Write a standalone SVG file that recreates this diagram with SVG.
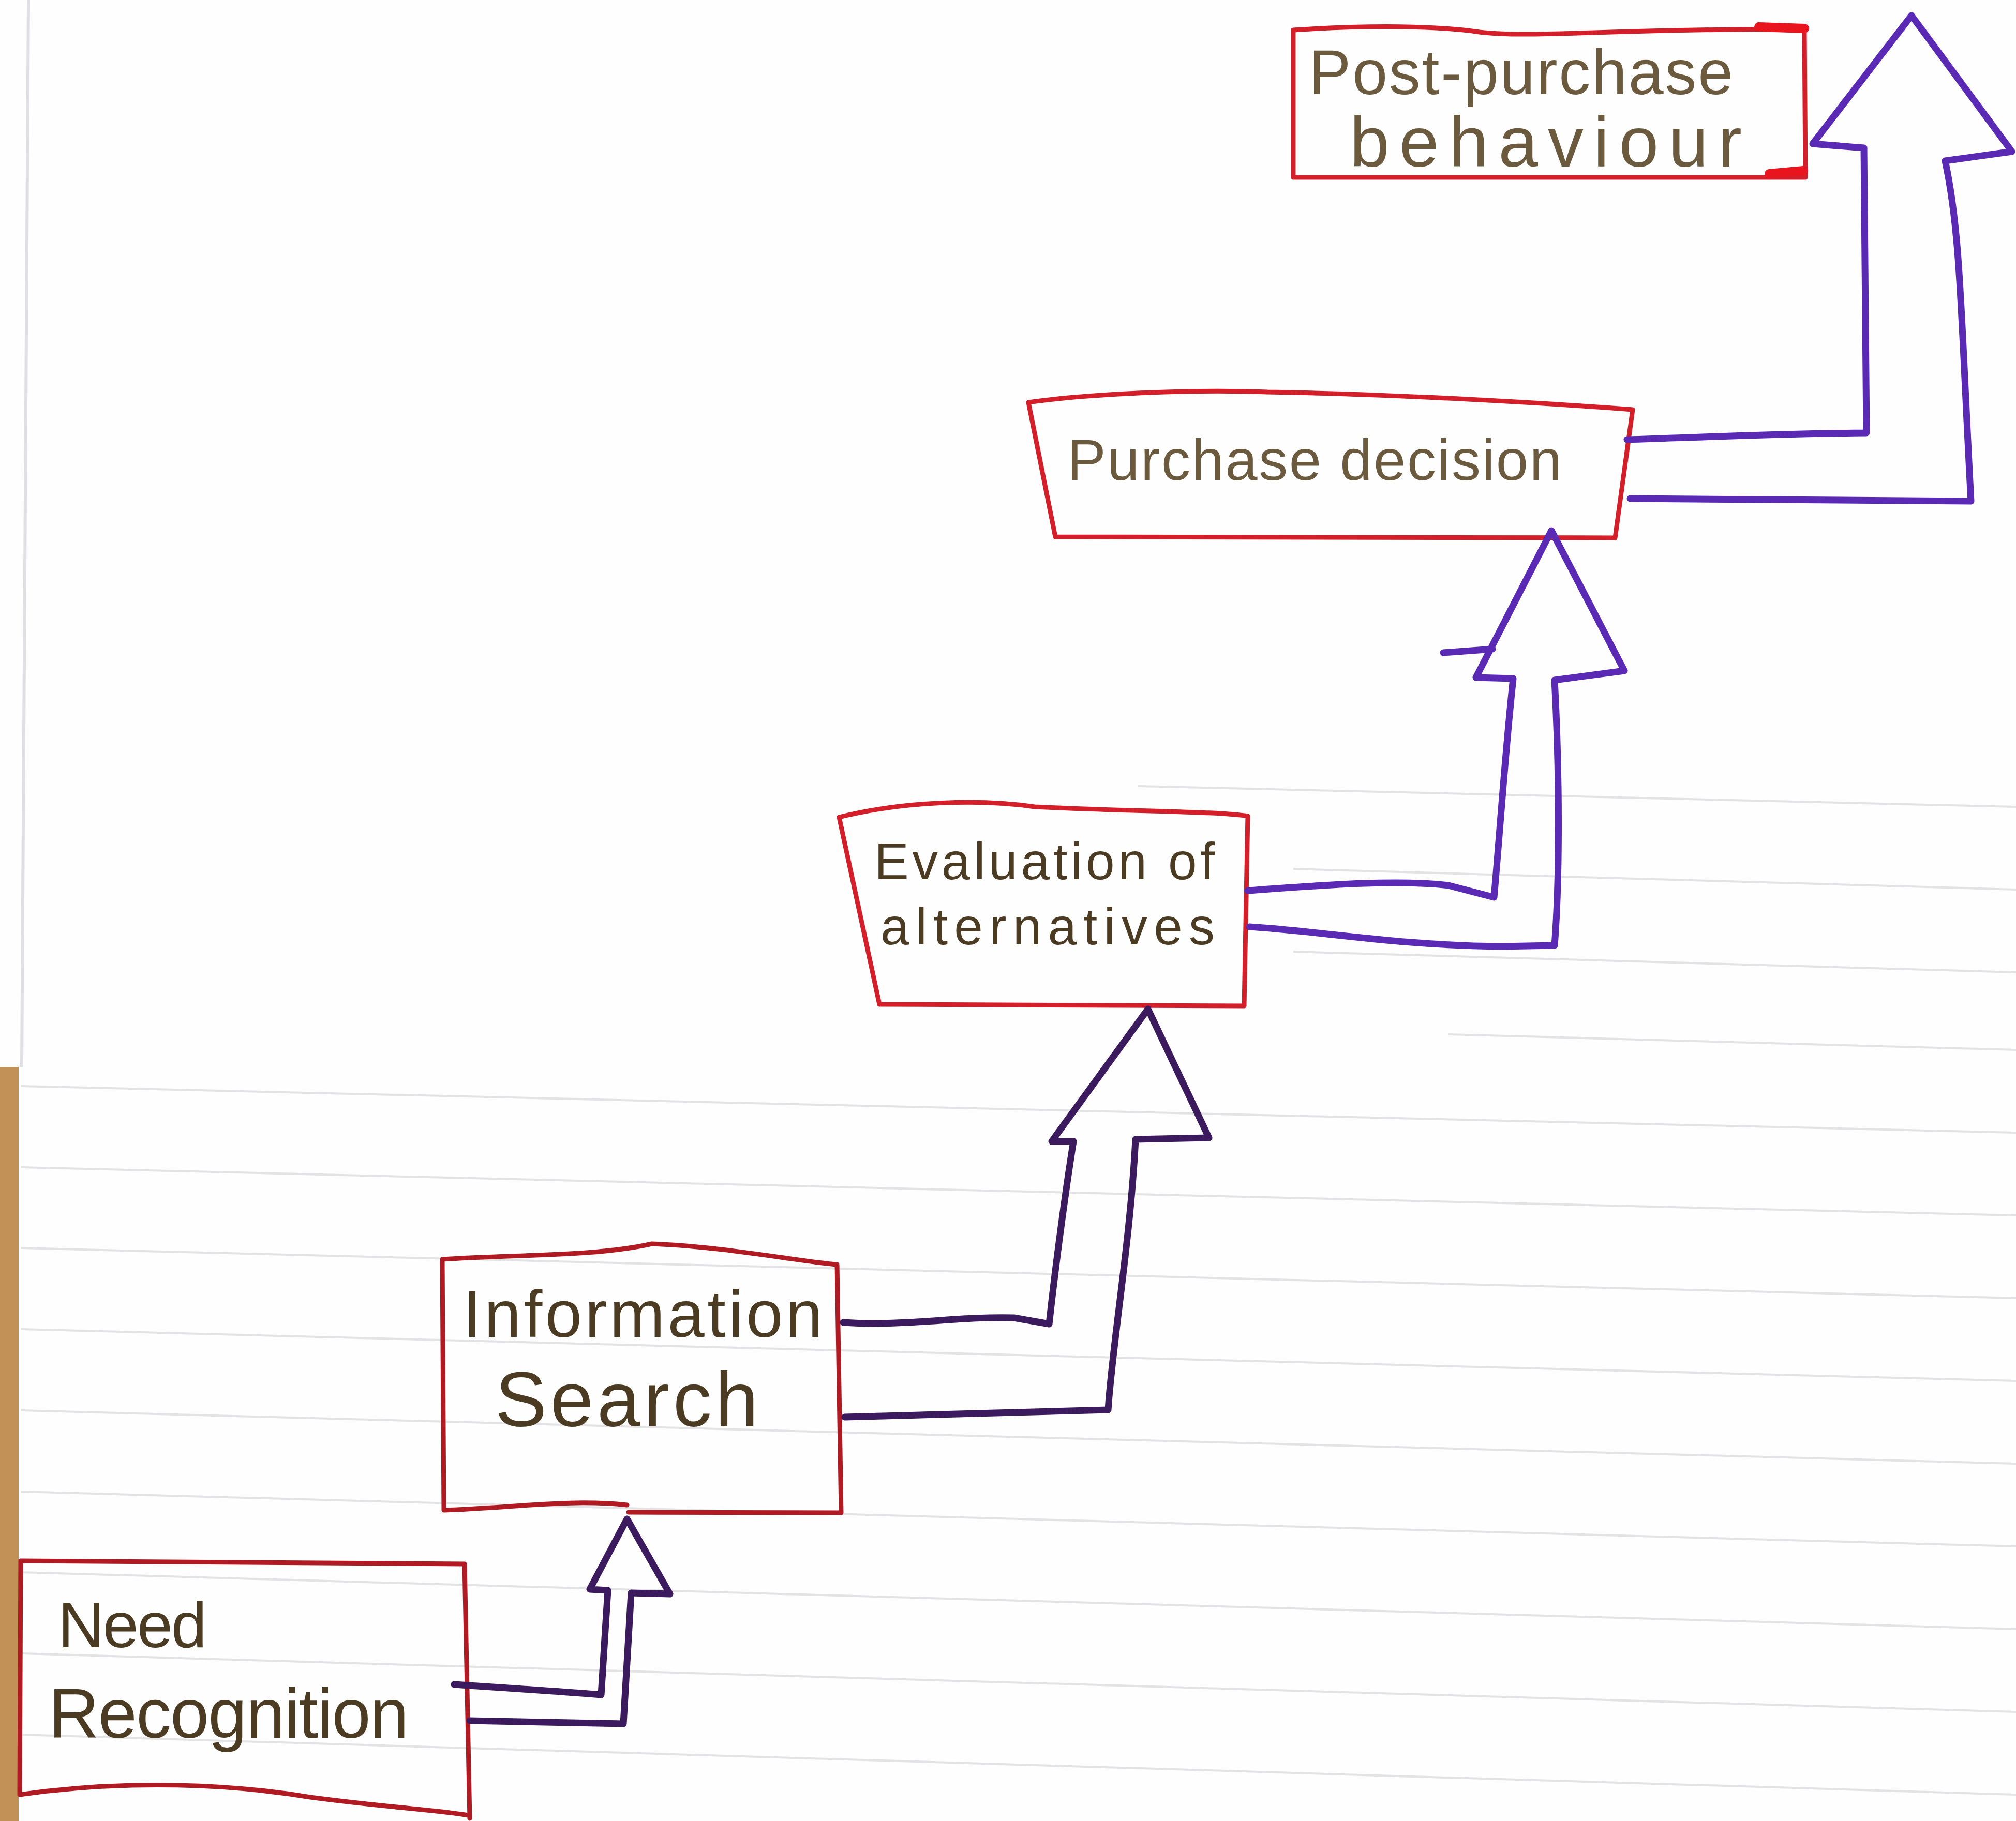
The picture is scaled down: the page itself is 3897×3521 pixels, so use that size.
<svg xmlns="http://www.w3.org/2000/svg" width="3897" height="3521" viewBox="0 0 3897 3521">
  <style>
    .box { fill: none; stroke: #d21f2a; stroke-width: 9; stroke-linejoin: round; stroke-linecap: round; }
    .boxdark { stroke: #b01a22; }
    .arrow { fill: none; stroke-width: 13; stroke-linejoin: round; stroke-linecap: round; }
    .a-dark { stroke: #3b1a5e; }
    .a-light { stroke: #5a2ab4; }
    .lbl { font-family: "Liberation Sans", "DejaVu Sans", sans-serif; fill: #4a3b22; }
    .lbl-light { fill: #6b5a3e; }
    .rule { stroke: #e3e3e6; stroke-width: 4; fill: none; }
  </style>
  <rect width="3897" height="3521" fill="#fefefe"/>
  <g id="paper">
    <rect x="0" y="2063" width="36" height="1458" fill="#c19157"/>
    <line x1="55" y1="0" x2="42" y2="2063" stroke="#e0e0e4" stroke-width="6"/>
    <path class="rule" d="M 40 2100 L 3897 2190 M 40 2257 L 3897 2350 M 40 2413 L 3897 2510 M 40 2570 L 3897 2670 M 40 2727 L 3897 2830 M 40 2884 L 3897 2990 M 40 3040 L 3897 3150 M 40 3197 L 3897 3310 M 40 3354 L 3897 3470 M 2200 1520 L 3897 1560 M 2500 1680 L 3897 1720 M 2500 1840 L 3897 1880 M 2800 2000 L 3897 2030"/>
  </g>
  <g id="node-post-purchase">
    <path class="box" d="M 2500 58 C 2650 48 2780 50 2860 62 C 2960 74 3100 56 3488 56 L 3490 343 L 2500 343 Z"/>
    <path d="M 3400 52 L 3488 55 M 3420 336 L 3486 330" stroke="#e8141e" stroke-width="18" stroke-linecap="round" fill="none"/>
    <text class="lbl lbl-light" x="2530" y="182" font-size="122" textLength="820" lengthAdjust="spacing">Post-purchase</text>
    <text class="lbl lbl-light" x="2609" y="322" font-size="138" textLength="758" lengthAdjust="spacing">behaviour</text>
  </g>
  <g id="node-purchase-decision">
    <path class="box" d="M 1988 778 C 2100 762 2300 752 2450 758 C 2700 762 3000 780 3156 792 L 3122 1040 L 2040 1038 Z"/>
    <text class="lbl lbl-light" x="2063" y="928" font-size="112" textLength="956" lengthAdjust="spacing">Purchase decision</text>
  </g>
  <g id="node-evaluation">
    <path class="box" d="M 1622 1580 C 1750 1548 1900 1545 2000 1560 C 2200 1570 2350 1568 2412 1578 L 2405 1945 L 1700 1942 Z"/>
    <text class="lbl" x="1690" y="1700" font-size="100" textLength="658" lengthAdjust="spacing">Evaluation of</text>
    <text class="lbl" x="1702" y="1826" font-size="100" textLength="646" lengthAdjust="spacing">alternatives</text>
  </g>
  <g id="node-information-search">
    <path class="box boxdark" d="M 855 2435 C 1000 2425 1150 2430 1260 2405 C 1400 2410 1550 2440 1618 2445 L 1626 2925 L 1215 2924 M 1212 2910 C 1100 2898 1000 2915 858 2920 L 855 2435"/>
    <text class="lbl" x="895" y="2585" font-size="128" textLength="695" lengthAdjust="spacing">Information</text>
    <text class="lbl" x="957" y="2758" font-size="150" textLength="509" lengthAdjust="spacing">Search</text>
  </g>
  <g id="node-need-recognition">
    <path class="box boxdark" d="M 40 3018 L 898 3024 L 908 3516 M 40 3018 L 38 3470 C 250 3440 450 3450 600 3475 C 750 3495 850 3500 905 3510"/>
    <text class="lbl" x="112" y="3185" font-size="124" textLength="288" lengthAdjust="spacing">Need</text>
    <text class="lbl" x="94" y="3360" font-size="135" textLength="696" lengthAdjust="spacing">Recognition</text>
  </g>
  <g id="connectors">
    <path id="c1" class="arrow a-dark" d="M 878 3257 C 950 3262 1050 3268 1162 3277 L 1175 3075 L 1140 3073 L 1212 2937 L 1295 3082 L 1220 3080 L 1205 3333 L 908 3327"/>
    <path id="c2" class="arrow a-dark" d="M 1630 2557 C 1750 2565 1850 2545 1960 2548 L 2028 2560 C 2040 2450 2060 2300 2075 2207 L 2033 2207 L 2219 1951 L 2337 2200 L 2195 2203 C 2185 2400 2150 2600 2142 2726 L 1633 2740"/>
    <path id="c3" class="arrow a-light" d="M 2412 1722 C 2550 1712 2700 1700 2800 1712 L 2888 1735 C 2900 1600 2910 1450 2925 1312 L 2853 1310 L 2999 1026 L 3140 1297 L 3005 1315 C 3015 1500 3015 1700 3005 1828 L 2900 1830 C 2700 1828 2550 1800 2415 1792"/>
    <path id="c3-stroke" class="arrow a-light" d="M 2790 1262 L 2885 1255"/>
    <path id="c4" class="arrow a-light" d="M 3145 850 C 3300 845 3450 838 3608 837 L 3603 286 L 3504 278 L 3695 30 L 3889 293 L 3760 311 C 3790 450 3790 600 3810 969 L 3151 964"/>
  </g>
</svg>
